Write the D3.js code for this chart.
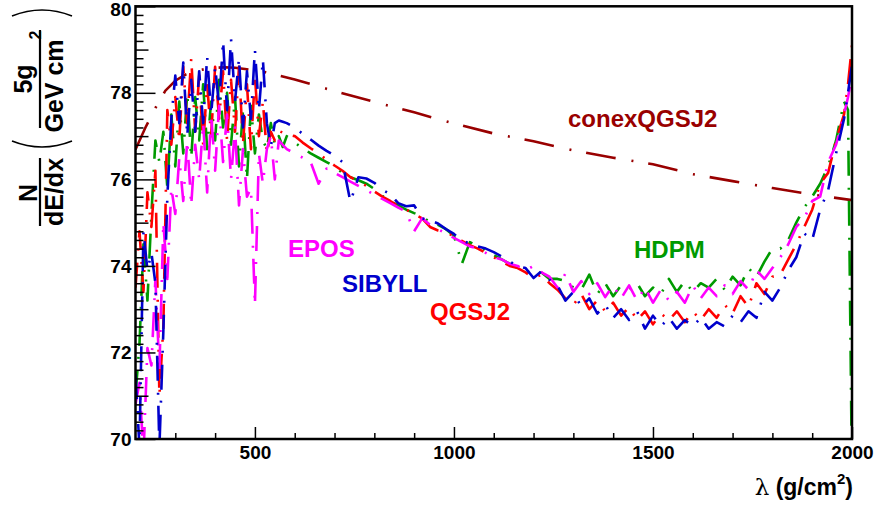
<!DOCTYPE html>
<html><head><meta charset="utf-8">
<script src="https://cdn.jsdelivr.net/npm/d3@7/dist/d3.min.js"></script>
<style>body{margin:0;background:#fff} svg{display:block;font-family:"Liberation Sans",Arial,Helvetica,sans-serif}</style>
</head><body>
<svg id="c" width="877" height="508"></svg>
<script>
// ---- data ----
const xGrid = d3.range(200, 600, 10).concat(d3.range(600, 1981, 20), [1990, 2000]);

const sibyll = [71.5,69.8,74.8,73.9,74.3,73.6,69.8,72.5,75.6,77.4,78.4,77.3,78.7,77.0,78.3,77.1,78.5,77.3,78.85,77.5,
 78.6,77.7,79.2,77.6,79.25,77.8,78.8,77.2,78.5,77.4,79.0,77.6,78.77,77.3,76.76,77.3,77.36,77.33,77.3,77.25,
 77.2,77.05,76.92,76.78,76.66,76.55,76.4,75.48,76.05,76.02,75.92,75.76,75.66,75.45,75.38,75.4,75.1,75.05,74.98,74.85,
 74.74,74.58,74.52,74.45,74.4,74.32,74.22,74.1,74.0,73.95,73.72,73.88,73.68,73.55,73.2,73.4,73.05,73.25,72.9,73.1,
 72.8,73.0,72.75,72.95,72.55,72.85,72.6,72.8,72.55,72.75,72.6,72.8,72.55,72.7,72.6,72.85,72.7,72.95,72.8,73.4,
 73.2,73.5,73.9,74.2,74.75,74.6,75.3,75.75,76.6,77.4,78.0,78.65];

const qgsj2 = [73.5,74.8,73.4,75.7,74.9,76.2,71.0,72.6,77.6,76.8,77.9,76.9,78.6,77.3,78.8,77.1,78.4,76.8,78.2,77.0,
 78.6,77.4,78.5,76.9,78.3,77.1,78.6,76.8,78.2,76.7,78.4,77.0,77.8,76.6,77.1,76.9,77.12,77.08,77.05,77.02,
 77.0,76.85,76.72,76.6,76.45,76.32,76.2,76.05,75.95,75.85,75.72,75.6,75.5,75.38,75.3,75.2,75.1,74.9,74.82,74.78,
 74.68,74.58,74.48,74.4,74.3,74.2,74.1,74.0,73.95,73.85,73.72,73.8,73.6,73.45,73.25,73.1,73.35,73.0,73.2,72.95,
 73.15,72.85,73.05,72.75,72.95,72.65,72.9,72.75,72.95,72.7,72.95,72.75,73.0,72.8,73.1,72.9,73.3,73.05,73.6,73.35,
 73.75,73.8,74.15,74.5,74.9,75.3,75.9,76.15,76.9,77.5,78.2,79.1];

const hdpm = [71.0,72.2,74.5,73.2,75.2,76.9,76.4,77.1,75.8,77.5,76.3,77.8,76.6,78.0,76.5,77.9,76.9,78.2,76.7,77.8,
 76.9,78.3,77.2,78.0,76.8,77.9,76.3,77.6,76.0,77.7,76.6,77.5,76.9,76.7,77.3,76.8,77.0,76.75,77.0,76.9,
 76.85,76.72,76.6,76.5,76.4,76.3,76.15,76.05,75.98,75.9,75.78,75.62,75.5,75.4,75.3,75.22,75.15,75.0,74.95,74.85,
 74.7,74.05,74.55,74.45,74.35,74.25,74.15,74.05,73.95,73.9,73.8,73.85,73.7,73.7,73.65,73.5,73.45,73.8,73.35,73.6,
 73.3,73.55,73.45,73.6,73.3,73.5,73.35,73.7,73.4,73.65,73.4,73.6,73.5,73.7,73.45,73.75,73.55,73.95,73.75,74.1,
 74.4,74.4,74.6,75.0,75.35,75.6,75.9,76.3,76.9,77.8,77.6,69.0];

const epos = [70.8,71.3,69.6,72.1,71.7,73.7,71.6,75.0,73.7,75.8,75.2,76.5,75.5,76.9,75.4,76.8,76.0,77.3,75.7,77.5,
 76.2,77.7,76.4,77.5,76.0,77.2,75.4,76.7,75.6,75.8,73.1,76.6,75.9,76.7,77.0,76.0,76.9,76.8,76.7,76.65,
 76.6,76.5,76.4,75.9,76.25,76.15,76.05,75.95,75.85,75.75,75.65,75.55,75.45,75.35,75.25,74.8,75.1,74.95,74.85,74.75,
 74.65,74.55,74.45,74.4,74.3,74.2,74.15,74.05,74.0,73.9,74.0,73.85,73.75,73.5,73.82,73.4,73.65,73.35,73.6,73.28,
 73.55,73.25,73.55,73.2,73.5,73.15,73.45,73.2,73.4,73.15,73.55,73.25,73.5,73.3,73.55,73.35,73.65,73.45,73.9,73.7,
 73.95,74.2,74.5,74.9,75.1,75.5,75.6,76.4,76.8,77.5,77.9,78.4];

const conexX = [200,225,250,275,300,325,350,375,400,425,450,475,500,525,550,600,700,800,900,1000,1100,1200,1300,1400,1500,1600,1700,1800,1900,2000];
const conexY = [76.69,77.2,77.65,78.05,78.28,78.42,78.5,78.55,78.58,78.59,78.58,78.55,78.52,78.48,78.42,78.31,78.04,77.79,77.55,77.29,77.06,76.88,76.67,76.5,76.35,76.12,75.96,75.8,75.65,75.52];

const xTicks = [500, 1000, 1500, 2000];
const xMinor = [300,400,600,700,800,900,1100,1200,1300,1400,1600,1700,1800,1900];
const yTicks = [70, 72, 74, 76, 78, 80];
const yMid = [71, 73, 75, 77, 79];
const yMinor = d3.range(70, 80.001, 0.2).filter(v => Math.abs(v - Math.round(v)) > 0.01);

const series = [
  {name: "HDPM", vals: hdpm, color: "#009a00", lx: 634, ly: 258},
  {name: "QGSJ2", vals: qgsj2, color: "#ff0000", lx: 430, ly: 320},
  {name: "EPOS", vals: epos, color: "#ff00ff", lx: 288, ly: 257},
  {name: "SIBYLL", vals: sibyll, color: "#0000cc", lx: 342, ly: 292}
];

// ---- drawing ----
const svg = d3.select("#c");
const L = 135.5, R = 852, T = 6.3, B = 439;
const x = d3.scaleLinear().domain([200, 2000]).range([L, R]);
const y = d3.scaleLinear().domain([70, 80]).range([B, T]);

svg.append("defs").append("clipPath").attr("id", "clip")
  .append("rect").attr("x", L).attr("y", T).attr("width", R - L).attr("height", B - T);

const plot = svg.append("g").attr("clip-path", "url(#clip)");

const lineC = d3.line().x((d, i) => x(conexX[i])).y(d => y(d));
plot.append("path").datum(conexY).attr("d", lineC)
  .attr("fill", "none").attr("stroke", "#990000").attr("stroke-width", 2.6)
  .attr("stroke-dasharray", "30,16,2,15");

const line = d3.line().x((d, i) => x(xGrid[i])).y(d => y(d));
series.forEach(s => {
  plot.append("path").datum(s.vals).attr("d", line)
    .attr("fill", "none").attr("stroke", s.color).attr("stroke-width", 2.6)
    .attr("stroke-linejoin", "round")
    .attr("stroke-dasharray", "25,12,2,11");
});

// labels
series.forEach(s => {
  svg.append("text").attr("x", s.lx).attr("y", s.ly).text(s.name)
    .attr("fill", s.color).attr("font-weight", "bold").attr("font-size", 24);
});
svg.append("text").attr("x", 568).attr("y", 127).text("conexQGSJ2")
  .attr("fill", "#990000").attr("font-weight", "bold").attr("font-size", 24);

// axes
function styleAxis(g) {
  g.select(".domain").remove();
  g.selectAll(".tick line").attr("stroke", "#000").attr("stroke-width", 1.5);
  g.selectAll("text").attr("font-size", 19).attr("font-weight", "bold").attr("fill", "#000")
    .attr("font-family", '"Liberation Sans",Arial,sans-serif');
}
const yAx = svg.append("g").attr("transform", `translate(${L},0)`)
  .call(d3.axisLeft(y).tickValues(yTicks).tickSize(-20).tickPadding(4).tickFormat(d3.format("d"))).call(styleAxis);
yAx.selectAll(".tick text").filter(d => d === 80).attr("dy", "0.5em");
svg.append("g").attr("transform", `translate(${L},0)`)
  .call(d3.axisLeft(y).tickValues(yMid).tickSize(-13).tickFormat("")).call(styleAxis);
svg.append("g").attr("transform", `translate(${L},0)`)
  .call(d3.axisLeft(y).tickValues(yMinor).tickSize(-8).tickFormat("")).call(styleAxis);
svg.append("g").attr("transform", `translate(0,${B})`)
  .call(d3.axisBottom(x).tickValues(xTicks).tickSize(-12).tickPadding(7).tickFormat(d3.format("d"))).call(styleAxis);
svg.append("g").attr("transform", `translate(0,${B})`)
  .call(d3.axisBottom(x).tickValues(xMinor).tickSize(-6).tickFormat("")).call(styleAxis);

// frame
svg.append("rect").attr("x", L).attr("y", T).attr("width", R - L).attr("height", B - T)
  .attr("fill", "none").attr("stroke", "#000").attr("stroke-width", 2.5);

// x title
const xt = svg.append("text").attr("x", 853).attr("y", 495).attr("text-anchor", "end")
  .attr("font-size", 23).attr("fill", "#000");
xt.append("tspan").attr("font-family", '"DejaVu Serif","Liberation Serif",serif').attr("font-weight", "normal").text("λ");
xt.append("tspan").attr("font-weight", "bold").text(" (g/cm");
xt.append("tspan").attr("font-weight", "bold").attr("font-size", 15).attr("dy", -11).text("2");
xt.append("tspan").attr("font-weight", "bold").attr("dy", 11).text(")");

// y title (rotated)
const yt = svg.append("g").attr("transform", "rotate(-90)");
const tf = {"font-size": 25, "font-weight": "bold", "text-anchor": "middle", fill: "#000"};
function T2(g, txt, cx, base, fs) {
  const t = g.append("text").attr("x", -cx).attr("y", base).text(txt);
  Object.entries(tf).forEach(([k, v]) => t.attr(k, v));
  if (fs) t.attr("font-size", fs);
  return t;
}
T2(yt, "N", 193, 37);
T2(yt, "dE/dx", 192, 63);
T2(yt, "5g", 79, 32);
T2(yt, "GeV cm", 86, 63);
T2(yt, "2", 35, 41, 16);
svg.append("line").attr("x1", 40).attr("x2", 40).attr("y1", 158).attr("y2", 226).attr("stroke", "#000").attr("stroke-width", 2.2);
svg.append("line").attr("x1", 40).attr("x2", 40).attr("y1", 30).attr("y2", 128).attr("stroke", "#000").attr("stroke-width", 2.2);
svg.append("path").attr("d", "M12,141 Q42,153 72,141").attr("fill", "none").attr("stroke", "#000").attr("stroke-width", 1.6);
svg.append("path").attr("d", "M12,16 Q42,4 72,16").attr("fill", "none").attr("stroke", "#000").attr("stroke-width", 1.6);
</script>
</body></html>
